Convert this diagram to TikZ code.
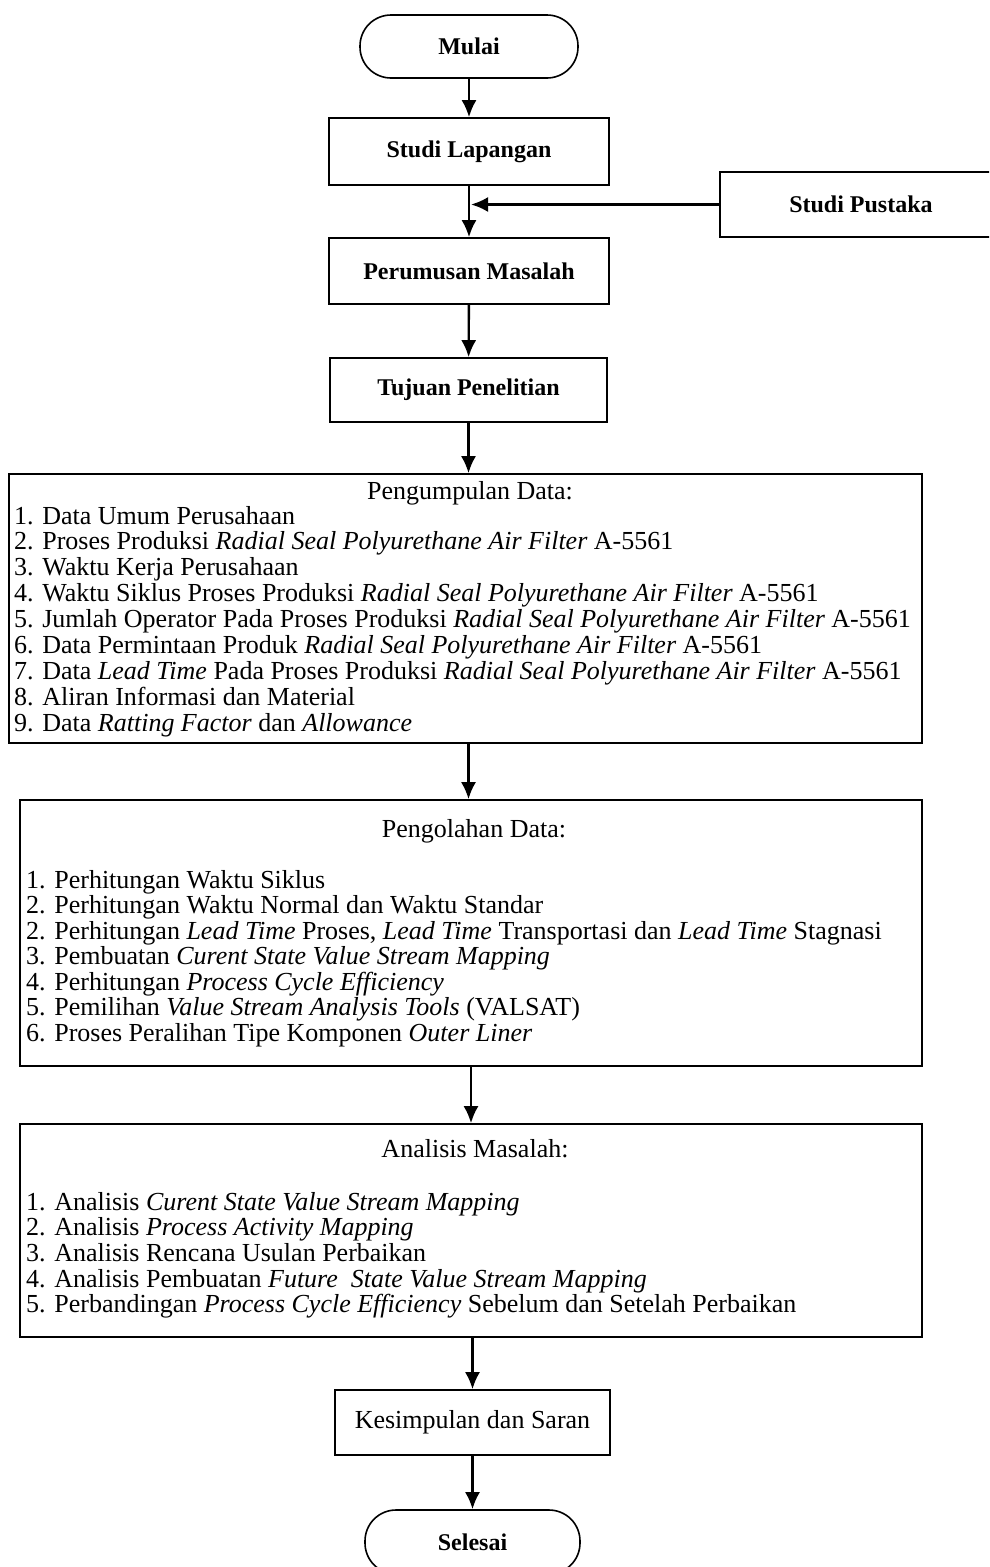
\documentclass[tikz,border=0pt]{standalone}
\usepackage{fontspec}
\setmainfont{Liberation Serif}
\usetikzlibrary{arrows.meta,calc}
\tikzset{
  box/.style={draw, line width=1.6pt, rectangle, inner sep=0pt},
  term/.style={draw, line width=1.6pt, rectangle, rounded corners=31pt, inner sep=0pt},
  topfont/.style={font=\fontsize{24}{26}\selectfont\bfseries},
  listtxt/.style={anchor=base west, inner sep=0pt, font=\fontsize{26}{26}\selectfont},
  ttl/.style={anchor=base, inner sep=0pt, font=\fontsize{26}{26}\selectfont},
  arr/.style={line width=2.4pt, -{Latex[length=17pt,width=15pt]}}
}
\begin{document}
\begin{tikzpicture}[x=1pt,y=-1pt]
\useasboundingbox (0,0) rectangle (989,1567);
\clip (0,0) rectangle (989,1567);
\fill[white] (0,0) rectangle (989,1567);

% top chain
\node[term, topfont, minimum width=218pt, minimum height=63pt] (mulai) at (469,46.5) {Mulai};
\node[box, topfont, minimum width=280pt, minimum height=67pt] (sl) at (469,151.5) {Studi Lapangan};
\node[box, topfont, minimum width=290pt, minimum height=65pt] (sp) at (865,204.5) {\hspace*{-8pt}Studi Pustaka};
\node[box, topfont, minimum width=280pt, minimum height=66pt] (pm) at (469,271) {Perumusan Masalah};
\node[box, topfont, minimum width=277pt, minimum height=64pt] (tp) at (468.5,390) {Tujuan Penelitian};

% Pengumpulan Data
\node[box, minimum width=913pt, minimum height=269pt] (pg) at (465.5,608.5) {};
\node[ttl] (pgt) at (470,499) {Pengumpulan Data:};
\foreach \t [count=\i from 0] in {
  {1. Data Umum Perusahaan},
  {2. Proses Produksi \textit{Radial Seal Polyurethane Air Filter} A-5561},
  {3. Waktu Kerja Perusahaan},
  {4. Waktu Siklus Proses Produksi \textit{Radial Seal Polyurethane Air Filter} A-5561},
  {5. Jumlah Operator Pada Proses Produksi \textit{Radial Seal Polyurethane Air Filter} A-5561},
  {6. Data Permintaan Produk \textit{Radial Seal Polyurethane Air Filter} A-5561},
  {7. Data \textit{Lead Time} Pada Proses Produksi \textit{Radial Seal Polyurethane Air Filter} A-5561},
  {8. Aliran Informasi dan Material},
  {9. Data \textit{Ratting Factor} dan \textit{Allowance}}}
  \node[listtxt] (pgl\i) at (14,{524+25.9*\i}) {\t};

% Pengolahan Data
\node[box, minimum width=902pt, minimum height=266pt] (po) at (471,933) {};
\node[ttl] (pot) at (474,837) {Pengolahan Data:};
\foreach \t [count=\i from 0] in {
  {1. Perhitungan Waktu Siklus},
  {2. Perhitungan Waktu Normal dan Waktu Standar},
  {2. Perhitungan \textit{Lead Time} Proses, \textit{Lead Time} Transportasi dan \textit{Lead Time} Stagnasi},
  {3. Pembuatan \textit{Curent State Value Stream Mapping}},
  {4. Perhitungan \textit{Process Cycle Efficiency}},
  {5. Pemilihan \textit{Value Stream Analysis Tools} (VALSAT)},
  {6. Proses Peralihan Tipe Komponen \textit{Outer Liner}}}
  \node[listtxt] (pol\i) at (26,{888+25.5*\i}) {\t};

% Analisis Masalah
\node[box, minimum width=902pt, minimum height=213pt] (an) at (471,1230.5) {};
\node[ttl] (ant) at (475,1157) {Analisis Masalah:};
\foreach \t [count=\i from 0] in {
  {1. Analisis \textit{Curent State Value Stream Mapping}},
  {2. Analisis \textit{Process Activity Mapping}},
  {3. Analisis Rencana Usulan Perbaikan},
  {4. Analisis Pembuatan \textit{Future\ \ State Value Stream Mapping}},
  {5. Perbandingan \textit{Process Cycle Efficiency} Sebelum dan Setelah Perbaikan}}
  \node[listtxt] (anl\i) at (26,{1210+25.7*\i}) {\t};

% bottom
\node[box, font=\fontsize{26}{26}\selectfont, minimum width=275pt, minimum height=65pt] (ks) at (472.5,1422.5) {Kesimpulan dan Saran};
\node[term, topfont, minimum width=215pt, minimum height=64pt] (sel) at (472.5,1542) {Selesai};

% connectors
\coordinate (j) at (sl.south |- sp.west);
\draw[arr] (mulai) -- (sl);
\draw[arr] (sl) -- (pm);
\draw[arr] (sp.west) -- ([xshift=2pt]j);
\draw[arr] (pm) -- (tp);
\draw[arr] (tp.south) -- (tp.south |- pg.north);
\draw[arr] (pg.south -| tp.south) -- (po.north -| tp.south);
\draw[arr] (po.south) -- (an.north);
\draw[arr] (an.south -| ks.north) -- (ks.north);
\draw[arr] (ks) -- (sel);
\end{tikzpicture}
\end{document}
